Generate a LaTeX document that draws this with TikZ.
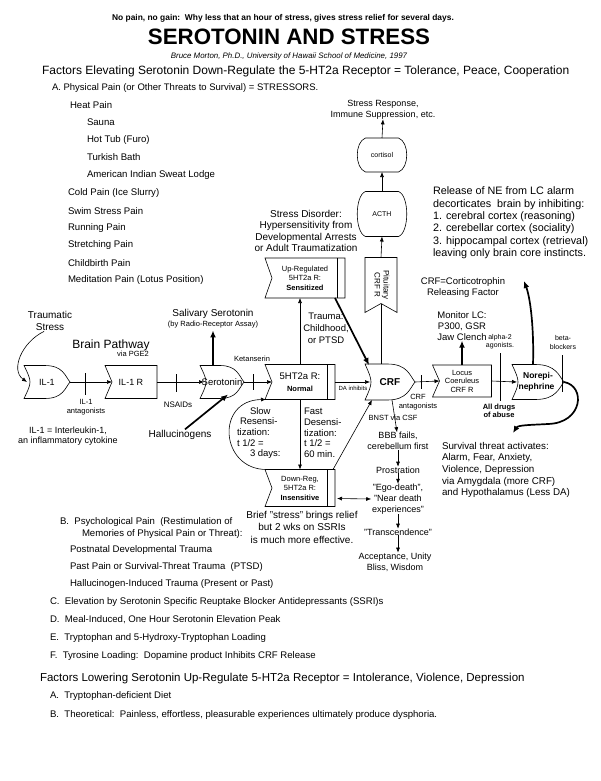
\documentclass[tikz,border=0pt]{standalone}
\usepackage{fontspec}
\setmainfont{Liberation Sans}
\usepackage{graphicx}
\usetikzlibrary{arrows.meta,calc}
\newcommand{\fsz}[2]{\fontsize{#1}{#2}\selectfont}
\newcommand{\gateout}[1]{\draw[shp] (#1.north west) .. controls ($(#1.west)+(8,0)$) .. (#1.south west) -- ($(#1.south west)!.45!(#1.south east)$) .. controls ($(#1.south west)!.85!(#1.south east)$) and ($(#1.east)+(-5,6)$) .. (#1.east) .. controls ($(#1.east)+(-5,-6)$) and ($(#1.north west)!.85!(#1.north east)$) .. ($(#1.north west)!.45!(#1.north east)$) -- cycle;}
\newcommand{\flagout}[1]{\draw[shp] (#1.north west) -- (#1.north east) -- (#1.south east) -- (#1.south west) -- ($(#1.west)+(7,0)$) -- cycle;}
\newcommand{\dblout}[1]{\draw[shp] ($(#1.north east)+(-8,0)$) -- ($(#1.south east)+(-8,0)$);}
\newcommand{\barrelout}[1]{\draw[shp] ($(#1.north west)+(8,0)$) -- ($(#1.north east)+(-8,0)$) .. controls ($(#1.north east)+(3,4)$) and ($(#1.south east)+(3,-4)$) .. ($(#1.south east)+(-8,0)$) -- ($(#1.south west)+(8,0)$) .. controls ($(#1.south west)+(-3,-4)$) and ($(#1.north west)+(-3,4)$) .. ($(#1.north west)+(8,0)$) -- cycle;}
\begin{document}
\begin{tikzpicture}[x=1pt,y=-1pt,
  every node/.style={inner sep=0pt,outer sep=0pt},
  shp/.style={line width=0.6pt},
  ln/.style={line width=0.6pt},
  arr/.style={line width=0.6pt,-{Latex[length=5pt,width=4pt]}},
  darr/.style={line width=0.6pt,{Latex[length=5pt,width=4pt]}-{Latex[length=5pt,width=4pt]}},
  tarr/.style={line width=1.7pt,-{Latex[length=7pt,width=6pt]}},
  txt/.style={align=center},
  lt/.style={anchor=west,align=left}]
\useasboundingbox (0,0) rectangle (600,781);
\fill[white] (0,0) rectangle (600,781);

% ---------- header ----------
\node[font=\fsz{8.4}{10}\bfseries] (nopain) at (283,18) {No pain, no gain:\ \ Why less that an hour of stress, gives stress relief for several days.};
\node[font=\fsz{22.3}{24}\bfseries] (title) at (289,37) {SEROTONIN AND STRESS};
\node[font=\fsz{7.9}{9}\itshape] (author) at (289,56) {Bruce Morton, Ph.D., University of Hawaii School of Medicine, 1997};
\node[lt,font=\fsz{12}{14}] (fup) at (42,71) {Factors Elevating Serotonin Down-Regulate the 5-HT2a Receptor = Tolerance, Peace, Cooperation};
\node[lt,font=\fsz{9.5}{11}] (secA) at (52,88) {A. Physical Pain (or Other Threats to Survival) = STRESSORS.};
\foreach \t/\x/\y [count=\i] in {Heat Pain/70/105,Sauna/87/122,Hot Tub (Furo)/87/140,Turkish Bath/87/157,American Indian Sweat Lodge/87/175,Cold Pain (Ice Slurry)/68/193,Swim Stress Pain/68/211,Running Pain/68/228,Stretching Pain/68/245,Childbirth Pain/68/263,Meditation Pain (Lotus Position)/68/280}
  \node[lt,font=\fsz{9.6}{11}] (pa\i) at (\x,\y) {\t};

% ---------- pathway nodes ----------
\node[minimum width=46,minimum height=33,font=\fsz{9}{10}] (il1) at (47,382) {IL-1};
\node[minimum width=52,minimum height=33,font=\fsz{9}{10}] (il1r) at (131,382) {IL-1 R};
\node[minimum width=44,minimum height=33,font=\fsz{9.5}{10}] (sero) at (222,382) {Serotonin};
\node[minimum width=70,minimum height=35,align=center] (ht2a) at (300,382) {{\fsz{9.5}{11}5HT2a R:}\\{\fsz{7.5}{9}\bfseries Normal}};
\node[minimum width=50,minimum height=36,font=\fsz{10}{11}\bfseries] (crf) at (390,382) {CRF};
\node[minimum width=59,minimum height=32,align=center,font=\fsz{7.5}{8.5}] (lc) at (462,381) {Locus\\Coeruleus\\CRF R};
\node[minimum width=52,minimum height=35,align=center,font=\fsz{8.5}{10.5}\bfseries] (ne) at (538,382) {Norepi-\\nephrine\hspace*{3pt}};
\node[minimum width=80,minimum height=40,align=center,font=\fsz{7.5}{9.5}] (upreg) at (305,278) {Up-Regulated\\5HT2a R:\\\textbf{Sensitized}};
\node[minimum width=70,minimum height=37,align=center,font=\fsz{7.5}{9.5}] (downreg) at (300,488) {Down-Reg,\\5HT2a R:\\\textbf{Insensitive}};
\node[minimum width=32,minimum height=55,font=\fsz{8}{9}] (pit) at (381,285) {\rotatebox{-90}{\begin{tabular}{@{}c@{}}Pituitary\\CRF R\end{tabular}}};
\node[minimum width=49,minimum height=45,font=\fsz{7}{8}] (acth) at (382,214) {ACTH};
\node[minimum width=49,minimum height=34,font=\fsz{7}{8}] (cort) at (382,155) {cortisol};

% outlines
\gateout{il1}
\gateout{sero}
\gateout{crf}
\gateout{ne}
\flagout{il1r}
\flagout{ht2a}\dblout{ht2a}
\flagout{upreg}\dblout{upreg}
\flagout{downreg}\dblout{downreg}
\flagout{lc}
\draw[shp] (pit.north west) -- (pit.north east) -- (pit.south east) -- ($(pit.south)+(0,-9)$) -- (pit.south west) -- cycle;
\barrelout{acth}
\barrelout{cort}

% ---------- labels ----------
\node[txt,font=\fsz{9}{10.5}] (sresp) at (383,110) {Stress Response,\\Immune Suppression, etc.};
\node[lt,font=\fsz{10.8}{12.4}] (release) at (433,223) {Release of NE from LC alarm\\decorticates\ \ brain by inhibiting:\\1. cerebral cortex (reasoning)\\2. cerebellar cortex (sociality)\\3. hippocampal cortex (retrieval)\\leaving only brain core instincts.};
\node[txt,font=\fsz{9.5}{11}] (crfdef) at (463,288) {CRF=Corticotrophin\\Releasing Factor};
\node[txt,font=\fsz{9.5}{11.2}] (monitor) at (462,326) {Monitor LC:\\P300, GSR\\Jaw Clench};
\node[txt,font=\fsz{7}{8}] (alpha) at (500,342) {alpha-2\\agonists.};
\node[txt,font=\fsz{7}{9}] (beta) at (563,342) {beta-\\blockers};
\node[txt,font=\fsz{7.5}{8.5}\bfseries] (drugs) at (499,411) {All drugs\\of abuse};
\node[txt,font=\fsz{7.5}{9}] (crfant) at (418,402) {CRF\\antagonists};
\node[lt,font=\fsz{9.8}{11.6}] (survival) at (442,470) {Survival threat activates:\\Alarm, Fear, Anxiety,\\Violence, Depression\\via Amygdala (more CRF)\\and Hypothalamus (Less DA)};
\node[font=\fsz{6}{7}] (dainh) at (353,388) {DA inhibits};
\node[font=\fsz{7.5}{8}] (ket) at (252,359) {Ketanserin};
\node[font=\fsz{7.5}{8}] (pge) at (133,354) {via PGE2};
\node[txt,font=\fsz{7.5}{9}] (il1ant) at (86,407) {IL-1\\antagonists};
\node[font=\fsz{8}{9}] (nsaid) at (178,405) {NSAIDs};
\node[txt,font=\fsz{9}{10.5}] (il1def) at (68,436) {IL-1 = Interleukin-1,\\an inflammatory cytokine};
\node[font=\fsz{10}{11}] (hall) at (180,435) {Hallucinogens};
\node[font=\fsz{10}{11}] (saliv) at (213,314) {Salivary Serotonin};
\node[font=\fsz{7.5}{8}] (radio) at (213,325) {(by Radio-Receptor Assay)};
\node[font=\fsz{12}{13}] (brain) at (111,345) {Brain Pathway};
\node[txt,font=\fsz{10}{11.5}] (traum) at (50,321) {Traumatic\\Stress};
\node[txt,font=\fsz{10}{11.6}] (sdis) at (306,231) {Stress Disorder:\\Hypersensitivity from\\Developmental Arrests\\or Adult Traumatization};
\node[txt,font=\fsz{9.5}{12.2}] (trauma) at (326,328) {Trauma:\\Childhood,\\or PTSD};
\node[lt,font=\fsz{9.5}{10.7}] (slow) at (237,433) {\hspace*{13pt}Slow\\\hspace*{3pt}Resensi-\\tization:\\t 1/2 =\\\hspace*{13pt}3 days:};
\node[lt,font=\fsz{9.5}{10.7}] (fast) at (304,433) {Fast\\Desensi-\\tization:\\t 1/2 =\\60 min.};
\node[txt,font=\fsz{10}{12.5}] (brief) at (302,527) {Brief "stress" brings relief\\but 2 wks on SSRIs\\is much more effective.};
\node[font=\fsz{7.5}{8}] (bnst) at (393,418) {BNST via CSF};
\node[txt,font=\fsz{9}{11}] (bbb) at (398,441) {BBB fails,\\cerebellum first};
\node[font=\fsz{9}{10}] (prost) at (398,470) {Prostration};
\node[txt,font=\fsz{9}{11}] (ego) at (398,499) {"Ego-death",\\"Near death\\experiences"};
\node[font=\fsz{9}{10}] (trans) at (398,532) {"Transcendence"};
\node[txt,font=\fsz{9}{11}] (accept) at (395,562) {Acceptance, Unity\\Bliss, Wisdom};

% ---------- bottom lists ----------
\node[lt,font=\fsz{9.6}{11}] (b1) at (60,522) {B.\ \ Psychological Pain\ \ (Restimulation of};
\node[lt,font=\fsz{9.6}{11}] (b2) at (82,534) {Memories of Physical Pain or Threat):};
\node[lt,font=\fsz{9.6}{11}] (b3) at (70,550) {Postnatal Developmental Trauma};
\node[lt,font=\fsz{9.6}{11}] (b4) at (70,567) {Past Pain or Survival-Threat Trauma\ \ (PTSD)};
\node[lt,font=\fsz{9.6}{11}] (b5) at (70,584) {Hallucinogen-Induced Trauma (Present or Past)};
\node[lt,font=\fsz{9.6}{11}] (c1) at (50,602) {C.\ \ Elevation by Serotonin Specific Reuptake Blocker Antidepressants (SSRI)s};
\node[lt,font=\fsz{9.6}{11}] (d1) at (50,620) {D.\ \ Meal-Induced, One Hour Serotonin Elevation Peak};
\node[lt,font=\fsz{9.6}{11}] (e1) at (50,638) {E.\ \ Tryptophan and 5-Hydroxy-Tryptophan Loading};
\node[lt,font=\fsz{9.6}{11}] (f1) at (50,656) {F.\ \ Tyrosine Loading:\ \ Dopamine product Inhibits CRF Release};
\node[lt,font=\fsz{11.5}{13}] (fdown) at (40,679) {Factors Lowering Serotonin Up-Regulate 5-HT2a Receptor = Intolerance, Violence, Depression};
\node[lt,font=\fsz{9.6}{11}] (ga) at (50,696) {A.\ \ Tryptophan-deficient Diet};
\node[lt,font=\fsz{9.6}{11}] (gb) at (50,715) {B.\ \ Theoretical:\ \ Painless, effortless, pleasurable experiences ultimately produce dysphoria.};

% ---------- connectors ----------
\coordinate (relend) at (524,281);
\coordinate (survend) at (513,433);
\draw[arr] ($(traum.south)+(-6,1)$) .. controls (22,342) and (10,370) .. ($(il1.west)+(3,0)$);
\draw[arr] (il1.east) -- ($(il1r.west)+(7,0)$);
\draw[arr] (il1r.east) -- ($(sero.west)+(4,0)$);
\draw[arr] (sero.east) -- ($(ht2a.west)+(7,0)$);
\draw[arr] (ht2a.east) -- ($(crf.west)+(5,0)$);
\draw[arr] (crf.east) -- ($(lc.west)+(7,0)$);
\draw[arr] (lc.east) -- ($(ne.west)+(5,0)$);
% inhibition bars
\draw[ln] (85,373) -- (85,395);
\draw[ln] (176,374) -- (176,392);
\draw[ln] (253,374) -- (253,390);
\draw[ln] (421,375) -- (421,389);
\draw[ln] (500,353) -- (500,401);
\draw[ln] (562,355) -- (562,392);
% verticals
\draw[tarr] (radio.south |- sero.north) -- ($(radio.south)+(0,2)$);
\draw[tarr] ($(hall.north)+(5,-1)$) -- ($(sero.south)+(6,-4)$);
\draw[arr] (ht2a.north) -- (ht2a.north |- upreg.south);
\draw[tarr] ($(upreg.south east)+(-10,0)$) -- ($(crf.north west)+(4,1)$);
\draw[ln] (pit.south |- crf.north) -- ($(pit.south)+(0,-9)$);
\draw[arr] (pit.north) -- (acth.south);
\draw[arr] (acth.north) -- (cort.south);
\draw[arr] (cort.north) -- (sresp.south);
\draw[tarr] (lc.north) -- (monitor.south);
\draw[tarr] ($(ne.north)+(-5,0)$) .. controls (534,332) and (531,300) .. (relend);
\draw[tarr] (ne.east) .. controls (586,386) and (583,423) .. (548,424) .. controls (530,425) and (518,425) .. (survend);
% CRF chain
\draw[arr] ($(crf.south)+(2,0)$) -- ($(bbb.north)+(-1,0)$);
\draw[arr] (bbb.south) -- (prost.north);
\draw[arr] (prost.south) -- (ego.north);
\draw[arr] (ego.south) -- (trans.north);
\draw[arr] (trans.south) -- ($(accept.north)+(3,0)$);
% receptor regulation
\draw[arr] (ht2a.south) -- (downreg.north);
\draw[arr] ($(downreg.north west)+(2,0)$) .. controls (220,470) and (215,400) .. ($(ht2a.south west)+(1,0)$);
\draw[arr] ($(downreg.north east)+(-2,0)$) -- ($(crf.south west)+(7,0)$);
\draw[darr] ($(downreg.south east)+(2,-8)$) -- ($(ego.west)+(-1,0)$);
\end{tikzpicture}
\end{document}
